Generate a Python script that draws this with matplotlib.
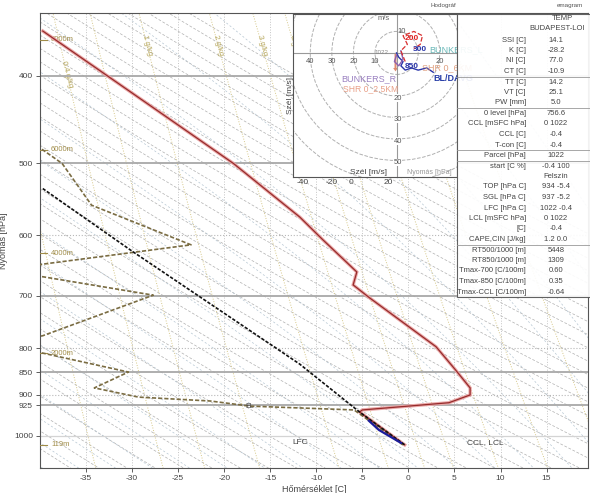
import numpy as np
import matplotlib.pyplot as plt
from matplotlib.ticker import FixedLocator, NullLocator
from matplotlib.patches import Rectangle, Circle, FancyArrow
from matplotlib.lines import Line2D

plt.rcParams['font.family'] = ['Liberation Sans', 'DejaVu Sans']

# sounding data
T_PRES = [357, 400, 500, 573, 607, 659, 681, 704, 797, 845, 885, 901, 919, 936, 941, 1023]
T_TEMP = [-39.7, -32.7, -19.0, -11.8, -9.3, -5.6, -6.0, -4.2, 3.0, 5.1, 6.7, 6.7, 4.4, -5.0, -5.3, -0.4]

TD_PRES = [450, 483, 500, 556, 615, 646, 660, 667, 699, 775, 795, 810, 850, 885, 906, 915, 927, 936, 1023]
TD_TEMP = [-45, -39.7, -37.6, -34.4, -23.6, -39.7, -45, -39.7, -27.7, -39.7, -45, -39.7, -30.4, -34.1, -29.3, -21.5, -17.2, -5.9, -0.6]

PARCEL_PRES = [533, 625, 833, 941, 1023]
PARCEL_TEMP = [-39.7, -30.0, -11.8, -5.3, -0.4]

BLUE_PRES = [962, 985, 1018]
BLUE_TEMP = [-4.3, -3.2, -0.8]

P_TICKS = [400, 500, 600, 700, 800, 850, 900, 925, 1000]
P_SOLID = [400, 500, 700, 850, 925]
P_DOTTED = [600, 800, 900]
T_TICKS = [-35, -30, -25, -20, -15, -10, -5, 0, 5, 10, 15]

HEIGHT_LABELS = ['8000m', '6000m', '4000m', '2000m', '119m']
HEIGHT_PRES = [365, 483, 628, 810, 1023]

MIX_RATIOS = [0.1, 0.2, 0.4, 0.6, 1, 2, 3, 4, 5, 7, 10, 15]
MIX_LABELED = [0.4, 1, 2, 3, 4]
MIX_LABEL_PRES = [399, 370, 370, 370, 370]

DRY_THETAS = np.arange(228, 340, 3)
MOIST_STARTS = np.arange(-40, 42, 4)

# hodograph (u, v in m/s)
HODO_LOW_U = [0, 1, 3, 2, 4, 7, 10, 14, 17]
HODO_LOW_V = [0, -2, -4, -6, -8, -7, -8, -7, -9]
HODO_UP_U = [4, 2, 5, 3, 8, 12, 11, 8]
HODO_UP_V = [-4, 1, 4, 8, 10, 8, 4, 2]
HODO_MID_U = [0, -1, 1, 3, 2]
HODO_MID_V = [-1, -4, -6, -3, 1]
HODO_RINGS = [10, 20, 30, 40, 50, 60]

TABLE_LABELS = ['SSI [C]', 'K [C]', 'NI [C]', 'CT [C]', 'TT [C]', 'VT [C]', 'PW [mm]',
                '0 level [hPa]', 'CCL [mSFC hPa]', 'CCL [C]', 'T-con [C]', 'Parcel [hPa]',
                'start [C %]', '', 'TOP [hPa C]', 'SGL [hPa C]', 'LFC [hPa C]',
                'LCL [mSFC hPa]', '[C]', 'CAPE,CIN [J/kg]', 'RT500/1000 [m]',
                'RT850/1000 [m]', 'Tmax-700 [C/100m]', 'Tmax-850 [C/100m]', 'Tmax-CCL [C/100m]']
TABLE_VALUES = ['14.1', '-28.2', '77.0', '-10.9', '14.2', '25.1', '5.0', '756.6', '0 1022',
                '-0.4', '-0.4', '1022', '-0.4 100', 'Felszín', '934 -5.4', '937 -5.2',
                '1022 -0.4', '0 1022', '-0.4', '1.2 0.0', '5448', '1309', '0.60', '0.35', '-0.64']
TABLE_SEPARATORS = [3, 6, 10, 11, 19]

W, H = 590, 493


def fx(x):
    return x / W


def fy(y):
    return 1 - y / H


fig = plt.figure(figsize=(5.9, 4.93), dpi=100)
ax = fig.add_axes([fx(40), fy(468), fx(588) - fx(40), fy(13) - fy(468)])
ax.set_yscale('log')
ax.set_ylim(1085, 341)
ax.set_xlim(-40, 19.5)

p = np.geomspace(1150, 320, 300)

# dry adiabats
for th in DRY_THETAS:
    ax.plot(th * (p / 1000) ** 0.2857 - 273.15, p, color='#b0b0b0', lw=0.5,
            dashes=(4, 2.5), zorder=1)

# moist adiabats
eps, Rd, cp, Lv = 0.622, 287.0, 1005.0, 2.5e6
for t0 in MOIST_STARTS:
    T = t0 + 273.15
    ts = [T]
    for i in range(1, len(p)):
        tc = T - 273.15
        es = 6.112 * np.exp(17.67 * tc / (tc + 243.5))
        rs = eps * es / (p[i - 1] - es)
        lapse = (Rd * T + Lv * rs) / (p[i - 1] * (cp + Lv ** 2 * rs * eps / (Rd * T ** 2)))
        T = T + lapse * (p[i] - p[i - 1])
        ts.append(T)
    ax.plot(np.array(ts) - 273.15, p, color='#b6c6d2', lw=0.5, dashes=(3, 3), zorder=1)

# mixing ratio lines
for w in MIX_RATIOS:
    e = w / 1000 * p / (0.622 + w / 1000)
    g = np.log(e / 6.112)
    ax.plot(243.5 * g / (17.67 - g), p, color='#d6c88a', lw=0.7, ls=':', zorder=1)
for w, pl in zip(MIX_LABELED, MIX_LABEL_PRES):
    e = w / 1000 * pl / (0.622 + w / 1000)
    g = np.log(e / 6.112)
    lab = f'{w:g} g/kg'
    ax.text(243.5 * g / (17.67 - g), pl, lab, rotation=-75, fontsize=5.5, color='#b5a55a',
            ha='center', va='center', zorder=2)

# grid
for t in T_TICKS:
    ax.axvline(t, color='#c4c4c4', lw=0.7, ls=':', zorder=1)
for pr in P_SOLID:
    ax.axhline(pr, color='#a8a8a8', lw=1.3, zorder=2)
for pr in P_DOTTED:
    ax.axhline(pr, color='#b8b8b8', lw=0.8, ls=':', zorder=2)
ax.axhline(1000, color='#d4d4d4', lw=0.9, zorder=2)

# height marks
for lab, pr in zip(HEIGHT_LABELS, HEIGHT_PRES):
    ax.axhline(pr, xmin=0, xmax=0.012, color='#a08c48', lw=0.8, zorder=3)
    ax.text(-38.8, pr, lab, fontsize=5.5, color='#a08c48', va='center', zorder=3)

# profiles
ax.plot(T_TEMP, T_PRES, color='#eaa8a8', lw=2.4, zorder=5, solid_joinstyle='miter')
ax.plot(T_TEMP, T_PRES, color='#962b2b', lw=0.9, zorder=6, solid_joinstyle='miter')
ax.plot(TD_TEMP, TD_PRES, color='#7a6c42', lw=1.2, dashes=(2.5, 1.2), zorder=5)
ax.plot(PARCEL_TEMP, PARCEL_PRES, color='#111111', lw=1.2, dashes=(2, 1), zorder=6)
ax.plot(BLUE_TEMP, BLUE_PRES, color='#1c1c9c', lw=1.6, zorder=7)

ax.text(-11.8, 1018, 'LFC', fontsize=6, color='#444', ha='center', va='center', zorder=6)
ax.text(8.4, 1018, 'CCL, LCL', fontsize=6, color='#444', ha='center', va='center', zorder=6)
ax.text(-17.2, 929, 'EL', fontsize=5, color='#444', ha='center', va='center', zorder=6)

# axes styling
ax.yaxis.set_major_locator(FixedLocator(P_TICKS))
ax.yaxis.set_minor_locator(NullLocator())
ax.set_yticklabels([str(v) for v in P_TICKS])
ax.set_xticks(T_TICKS)
ax.set_xticklabels([str(v) for v in T_TICKS])
ax.tick_params(labelsize=6, colors='#444', length=3, width=0.6, pad=2)
ax.set_xlabel('Hőmérséklet [C]', fontsize=6.5, color='#444', labelpad=2)
ax.set_ylabel('Nyomás [hPa]', fontsize=6.5, color='#444', labelpad=4)
for s in ax.spines.values():
    s.set_color('#555')
    s.set_linewidth(0.8)

# hodograph inset
hax = fig.add_axes([fx(293), fy(177), fx(457) - fx(293), fy(14) - fy(177)])
hax.set_xlim(-48, 28)
hax.set_ylim(-57.7, 18.1)
hax.set_xticks([])
hax.set_yticks([])
hax.set_facecolor('white')
for s in hax.spines.values():
    s.set_color('#555')
    s.set_linewidth(0.8)
for r in HODO_RINGS:
    hax.add_patch(Circle((0, 0), r, fill=False, ls='--', color='#b0b0b0', lw=0.7))
hax.axhline(0, color='#999', lw=0.8)
hax.axvline(0, color='#999', lw=0.8)
for r in HODO_RINGS[:4]:
    hax.text(-r, -4, str(r), fontsize=5.5, color='#555', ha='center', va='center')
hax.text(20, -4, '20', fontsize=5.5, color='#555', ha='center', va='center')
hax.text(2.5, 10, '10', fontsize=5.5, color='#555', ha='center', va='center')
for r in HODO_RINGS[1:5]:
    hax.text(0.5, -r - 1, str(r), fontsize=5.5, color='#555', ha='center', va='center',
             bbox=dict(boxstyle='square,pad=0.05', fc='white', ec='none'))
hax.text(-6, 16, 'm/s', fontsize=5.5, color='#666', ha='center', va='center')

hax.plot(HODO_LOW_U, HODO_LOW_V, color='#2a35a8', lw=1.0)
hax.plot(HODO_MID_U, HODO_MID_V, color='#8a60b0', lw=1.0)
hax.plot(HODO_UP_U, HODO_UP_V, color='#d83030', lw=0.9, ls='--')
hax.add_patch(FancyArrow(-0.5, 0, 0, -7, width=0.9, head_width=2.2, head_length=1.6,
                         color='#e08a70', lw=0))
hax.text(-7, 0.3, '1022', fontsize=4.5, color='#888', ha='center', va='center')
hax.text(7, 6.5, '200', fontsize=6, color='#e02020', ha='center', va='center', weight='bold')
hax.text(11, 1.5, '300', fontsize=6, color='#2a35a8', ha='center', va='center', weight='bold')
hax.text(15, 1.5, 'BUNKERS_L', fontsize=6.5, color='#6ab8b8', ha='left', va='center')
hax.text(7, -6.5, '850', fontsize=6, color='#2a35a8', ha='center', va='center', weight='bold')
hax.text(12, -7, 'SHR 0_6KM', fontsize=6.5, color='#e0a080', ha='left', va='center')
hax.text(-13, -12, 'BUNKERS_R', fontsize=6.5, color='#9a80c0', ha='center', va='center')
hax.text(17, -12, 'BL/DAVG', fontsize=6.5, color='#2a40a8', ha='left', va='center',
         weight='bold')
hax.text(-12, -16.5, 'SHR 0_2.5KM', fontsize=6.2, color='#e8a088', ha='center', va='center')
hax.text(-13, -55.5, 'Szél [m/s]', fontsize=6, color='#444', ha='center', va='center')
hax.text(15, -55.5, 'Nyomás [hPa]', fontsize=5, color='#999', ha='center', va='center')

fig.text(fx(290), fy(95), 'Szél [m/s]', fontsize=6, color='#444', rotation=90,
         ha='center', va='center')
for lab, xp in zip(['-40', '-20', '0', '20'], [303, 332, 351, 388]):
    fig.text(fx(xp), fy(183), lab, fontsize=6, color='#444', ha='center', va='center')

fig.text(fx(443), fy(5), 'Hodográf', fontsize=4.5, color='#555', ha='center', va='center')
fig.text(fx(570), fy(5), 'emagram', fontsize=4.5, color='#555', ha='center', va='center')

# table
fig.add_artist(Rectangle((fx(457), fy(297)), fx(590) - fx(457), fy(14) - fy(297),
                         transform=fig.transFigure, facecolor='white', edgecolor='#555',
                         lw=0.8, alpha=0.92, zorder=2))
fig.text(fx(562), fy(18.5), 'TEMP', fontsize=5.5, color='#444', ha='center', va='center')
fig.text(fx(557), fy(29), 'BUDAPEST-LOI', fontsize=5.5, color='#444', ha='center', va='center')
for i, (lab, val) in enumerate(zip(TABLE_LABELS, TABLE_VALUES)):
    yy = 40 + 10.5 * i
    fig.text(fx(526), fy(yy), lab, fontsize=5.5, color='#444', ha='right', va='center')
    fig.text(fx(556), fy(yy), val, fontsize=5.5, color='#444', ha='center', va='center')
for i in TABLE_SEPARATORS:
    yy = 40 + 10.5 * i + 5.25
    fig.add_artist(Line2D([fx(457), fx(590)], [fy(yy), fy(yy)], transform=fig.transFigure,
                          color='#999', lw=0.6, zorder=3))

fig.savefig('out.png', dpi=100)
